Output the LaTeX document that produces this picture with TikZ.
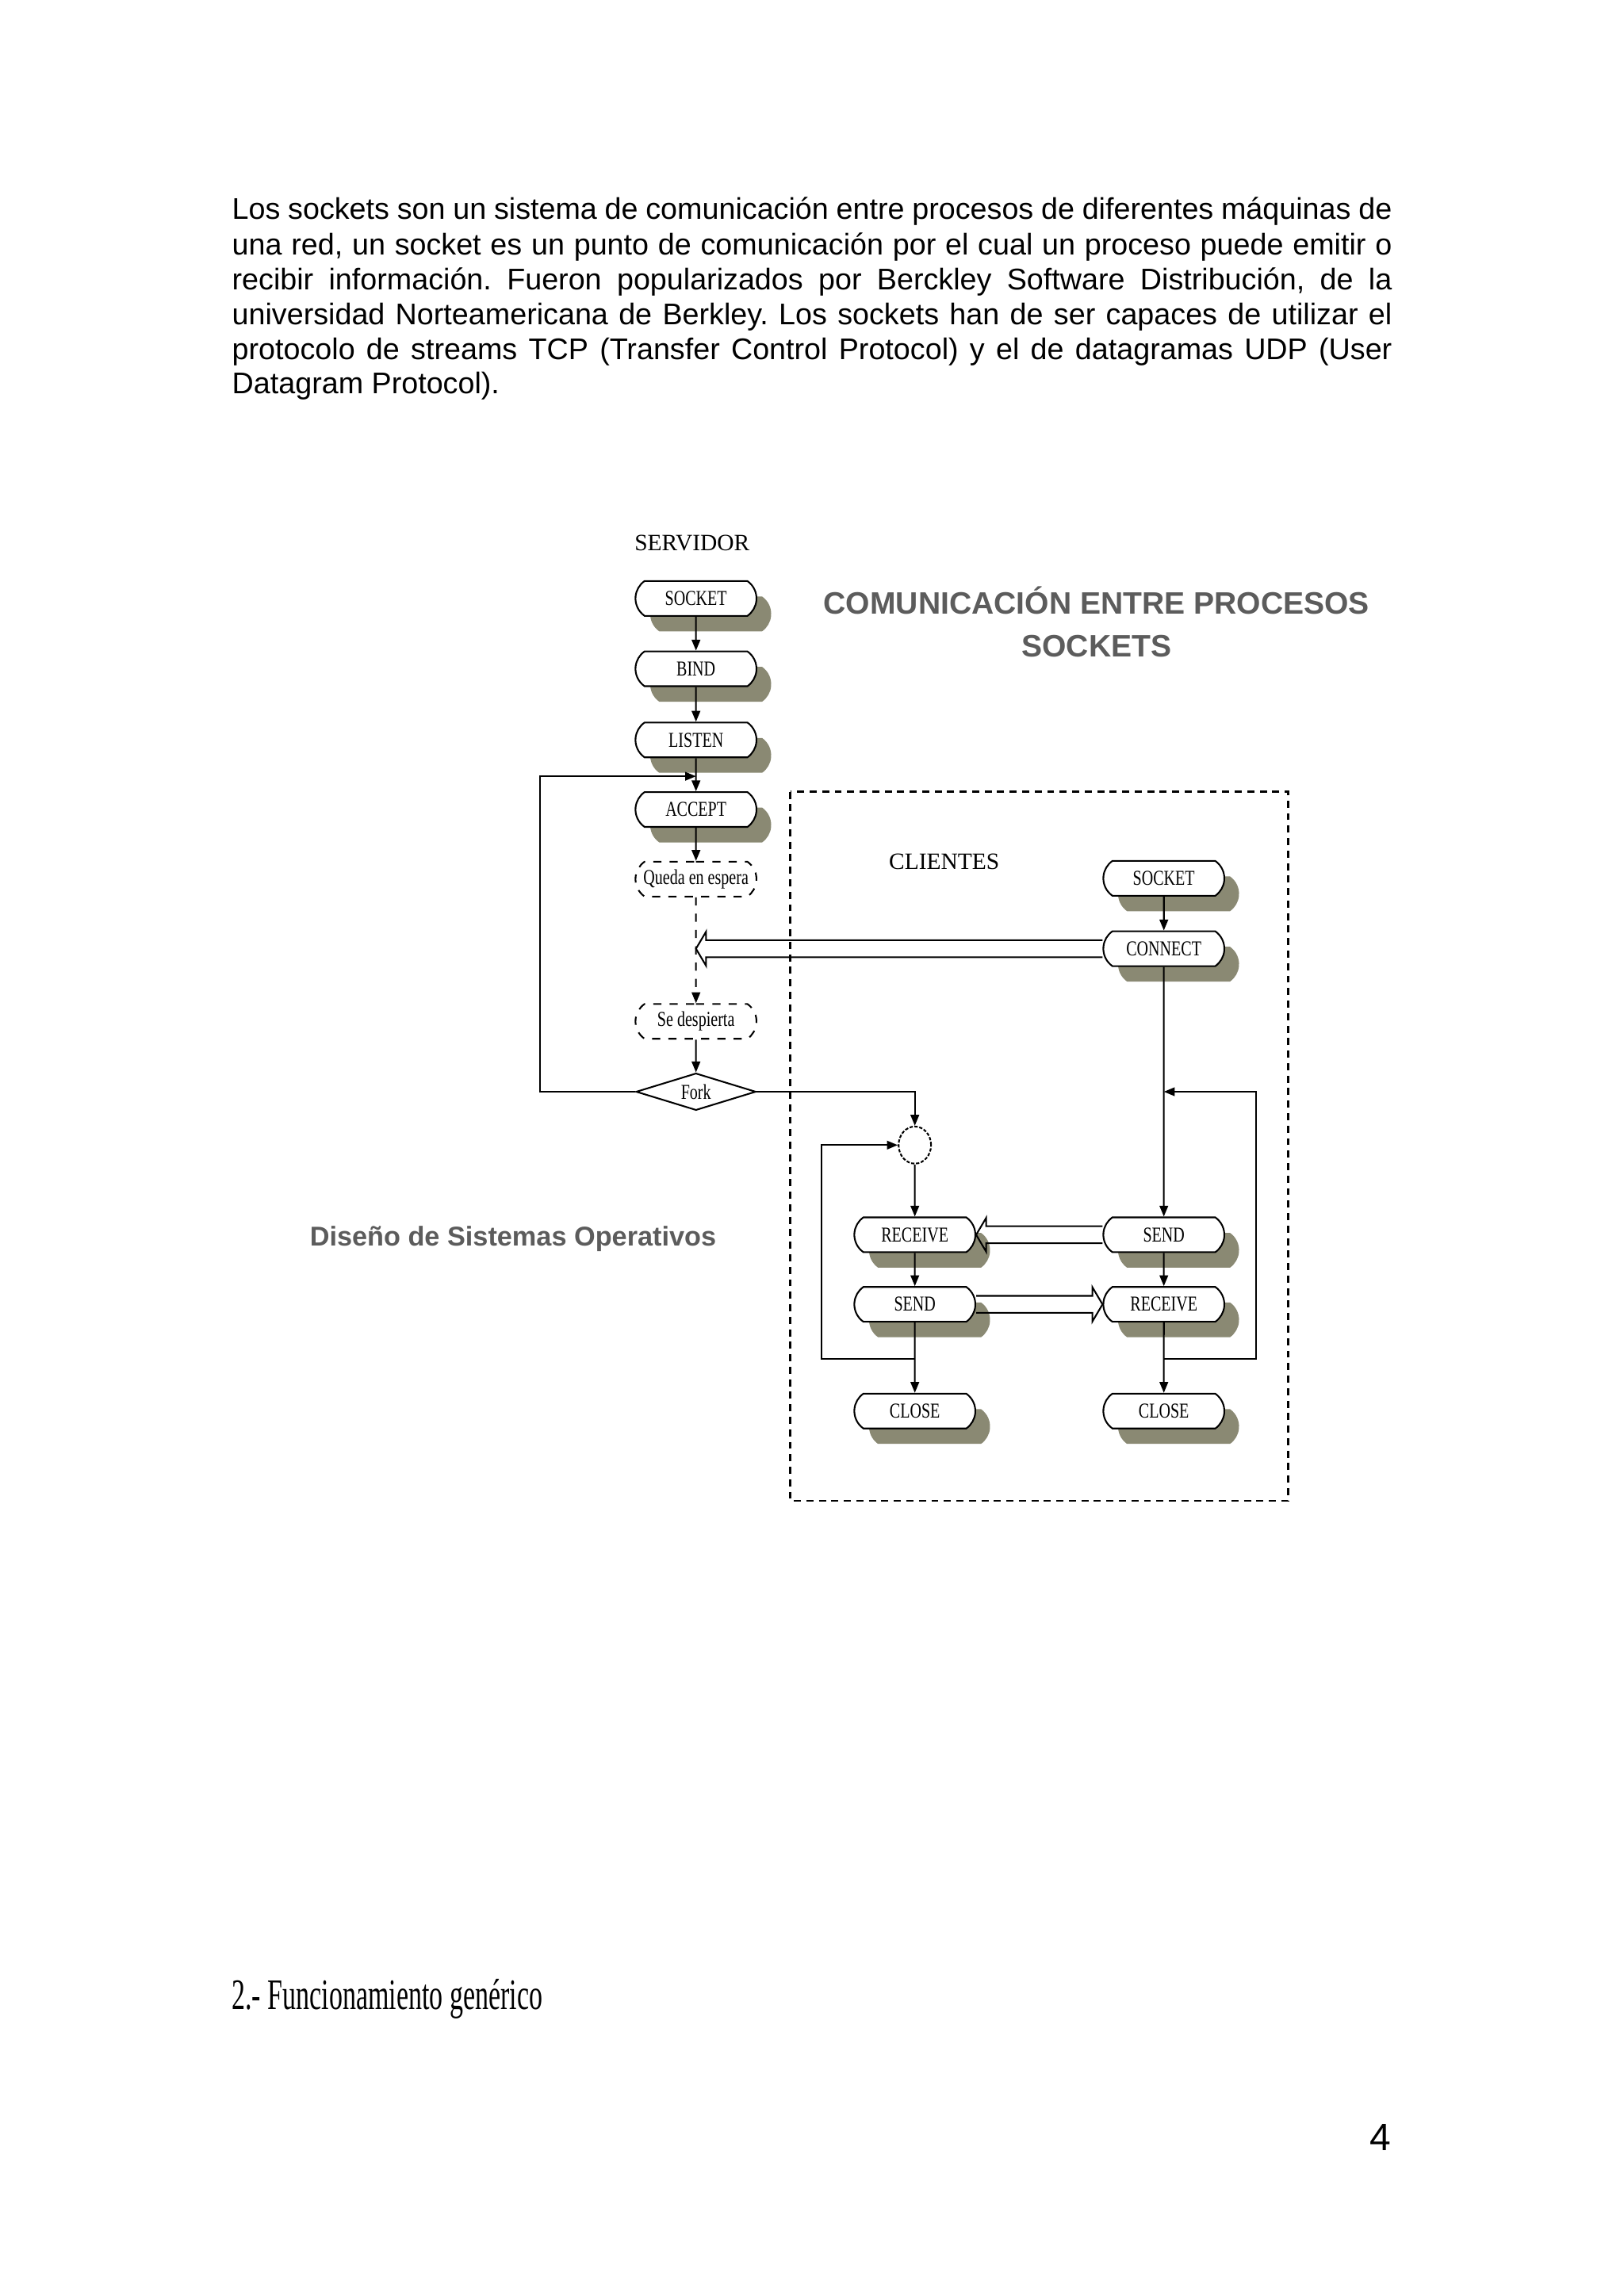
\documentclass[tikz,border=0pt]{standalone}
\usepackage{fontspec}
\setmainfont{Liberation Serif}
\newfontfamily\arialfont{Liberation Sans}
\newfontfamily\boxfont[FakeStretch=0.75]{Liberation Serif}
\newfontfamily\headfont[FakeStretch=0.62]{Liberation Serif}
\usepackage{tikz}
\usetikzlibrary{positioning,arrows.meta,shapes.geometric,shapes.misc,shadows,calc}
\frenchspacing

\definecolor{shadowolive}{RGB}{138,137,115}
\definecolor{titlegrey}{RGB}{92,92,92}

% hollow block arrow between two points at the same height
\newcommand{\hollowarrow}[2]{%
  \coordinate (hb) at ($(#2)!0.13cm!(#1)$);
  \draw[fatline] ([yshift=1.1mm]#1) -- ([yshift=1.1mm]hb) -- ([yshift=2.2mm]hb)
    -- (#2) -- ([yshift=-2.2mm]hb) -- ([yshift=-1.1mm]hb) -- ([yshift=-1.1mm]#1);}

\begin{document}
\begin{tikzpicture}[
      x=1cm, y=1cm,
      parline/.style={anchor=base west, inner sep=0, font=\arialfont\fontsize{11}{12.8}\selectfont},
      box/.style={draw, rounded rectangle, rounded rectangle arc length=110, minimum width=1.6cm, minimum height=0.45cm, inner sep=0.5pt, fill=white, line width=0.6pt, font=\boxfont\fontsize{7.8}{8}\selectfont, general shadow={fill=shadowolive, shadow xshift=0.19cm, shadow yshift=-0.2cm}},
      waitbox/.style={draw, dashed, rounded rectangle, rounded rectangle arc length=110, minimum width=1.6cm, minimum height=0.45cm, inner sep=0.5pt, line width=0.6pt, font=\boxfont\fontsize{7.8}{8}\selectfont},
      forkdiamond/.style={draw, diamond, aspect=3.2, minimum width=1.55cm, minimum height=0.48cm, inner sep=0.5pt, line width=0.6pt, font=\boxfont\fontsize{7.8}{8}\selectfont},
      gatecirc/.style={draw, ellipse, minimum width=0.42cm, minimum height=0.48cm, inner sep=0, line width=0.6pt, dash pattern=on 1.2pt off 0.6pt},
      lbl/.style={inner sep=0, font=\fontsize{8.6}{10}\selectfont},
      arr/.style={-{Triangle[length=1.4mm,width=1.1mm]}, line width=0.6pt},
      fatline/.style={line width=0.6pt, line join=miter},
      frame/.style={line width=0.8pt, dash pattern=on 2.6pt off 2pt}
  ]
    \path[fill=white] (0,0) rectangle (21,-29.696);

    % text of the page
    \node[parline] (par1) at (2.994,-2.840) {\makebox[15cm][s]{Los sockets son un sistema de comunicación entre procesos de diferentes máquinas de}};
    \node[parline] (par2) at (2.994,-3.292) {\makebox[15cm][s]{una red, un socket es un punto de comunicación por el cual un proceso puede emitir o}};
    \node[parline] (par3) at (2.994,-3.743) {\makebox[15cm][s]{recibir información. Fueron popularizados por Berckley Software Distribución, de la}};
    \node[parline] (par4) at (2.994,-4.194) {\makebox[15cm][s]{universidad Norteamericana de Berkley. Los sockets han de ser capaces de utilizar el}};
    \node[parline] (par5) at (2.994,-4.645) {\makebox[15cm][s]{protocolo de streams TCP (Transfer Control Protocol) y el de datagramas UDP (User}};
    \node[parline] (par6) at (2.994,-5.096) {Datagram Protocol).};

    % titles
    \node[inner sep=0, align=center, text=titlegrey, font=\arialfont\bfseries\fontsize{11.4}{15.7}\selectfont] (ttl) at (14.18,-8.04) {COMUNICACIÓN ENTRE PROCESOS\\SOCKETS};
    \node[anchor=west, inner sep=0, text=titlegrey, font=\arialfont\bfseries\fontsize{10}{12}\selectfont] (dso) at (4.0,-16.02) {Diseño de Sistemas Operativos};

    % servidor
    \node[lbl] (srvlbl) at (8.95,-7.02) {SERVIDOR};
    \node[box] (ssock) at (9.0,-7.74) {SOCKET};
    \node[box] (sbind) at (9.0,-8.65) {BIND};
    \node[box] (slisten) at (9.0,-9.57) {LISTEN};
    \node[box] (saccept) at (9.0,-10.47) {ACCEPT};
    \node[waitbox] (wait) at (9.0,-11.37) {Queda en espera};
    \node[waitbox] (wake) at (9.0,-13.21) {Se despierta};
    \node[forkdiamond] (fork) at (9.0,-14.12) {Fork};
    \coordinate (srvleft) at (6.98,-10.04);

    % clientes
    \draw[frame] (10.22,-10.24) rectangle (16.66,-19.41);
    \node[lbl] (clilbl) at (12.21,-11.14) {CLIENTES};
    \node[box] (csock) at (15.05,-11.36) {SOCKET};
    \node[box] (cconn) at (15.05,-12.27) {CONNECT};
    \coordinate (notify) at (wait |- cconn);
    \node[gatecirc] (gate) at (11.83,-14.81) {};
    \node[box] (lrecv) at (11.83,-15.97) {RECEIVE};
    \node[box] (lsend) at (11.83,-16.87) {SEND};
    \node[box] (lclose) at (11.83,-18.25) {CLOSE};
    \node[box] (csend) at (15.05,-15.97) {SEND};
    \node[box] (crecv) at (15.05,-16.87) {RECEIVE};
    \node[box] (cclose) at (15.05,-18.25) {CLOSE};
    \coordinate (lloop) at (10.62,-17.58);
    \coordinate (rloop) at (16.24,-17.58);

    \draw[arr] (ssock) -- (sbind);
    \draw[arr] (sbind) -- (slisten);
    \draw[arr] (slisten) -- (saccept);
    \draw[arr] (saccept) -- (wait);
    \draw[arr, dashed] (wait) -- (wake);
    \draw[arr] (wake) -- (fork);
    \draw[arr] (fork.west) -| (srvleft) -- (srvleft -| slisten.south);
    \draw[arr] (fork.east) -| (gate.north);

    \draw[arr] (gate) -- (lrecv);
    \draw[arr] (lrecv) -- (lsend);
    \draw[arr] (lsend) -- (lclose);
    \draw[arr] (lloop -| lsend.south) -- (lloop) |- (gate.west);

    \draw[arr] (csock) -- (cconn);
    \draw[arr] (cconn) -- (csend);
    \draw[arr] (csend) -- (crecv);
    \draw[arr] (crecv) -- (cclose);
    \draw[arr] (rloop -| crecv.south) -- (rloop) |- (cconn.south |- fork.east);

    \hollowarrow{cconn.west}{notify}
    \hollowarrow{csend.west}{lrecv.east}
    \hollowarrow{lsend.east}{crecv.west}

    % foot of the page
    \node[anchor=base west, inner sep=0, font=\headfont\fontsize{16}{18}\selectfont] (sect) at (2.99,-25.99) {2.- Funcionamiento genérico};
    \node[inner sep=0, font=\arialfont\fontsize{14}{16}\selectfont] (pnum) at (17.85,-27.64) {4};
  \end{tikzpicture}
\end{document}
